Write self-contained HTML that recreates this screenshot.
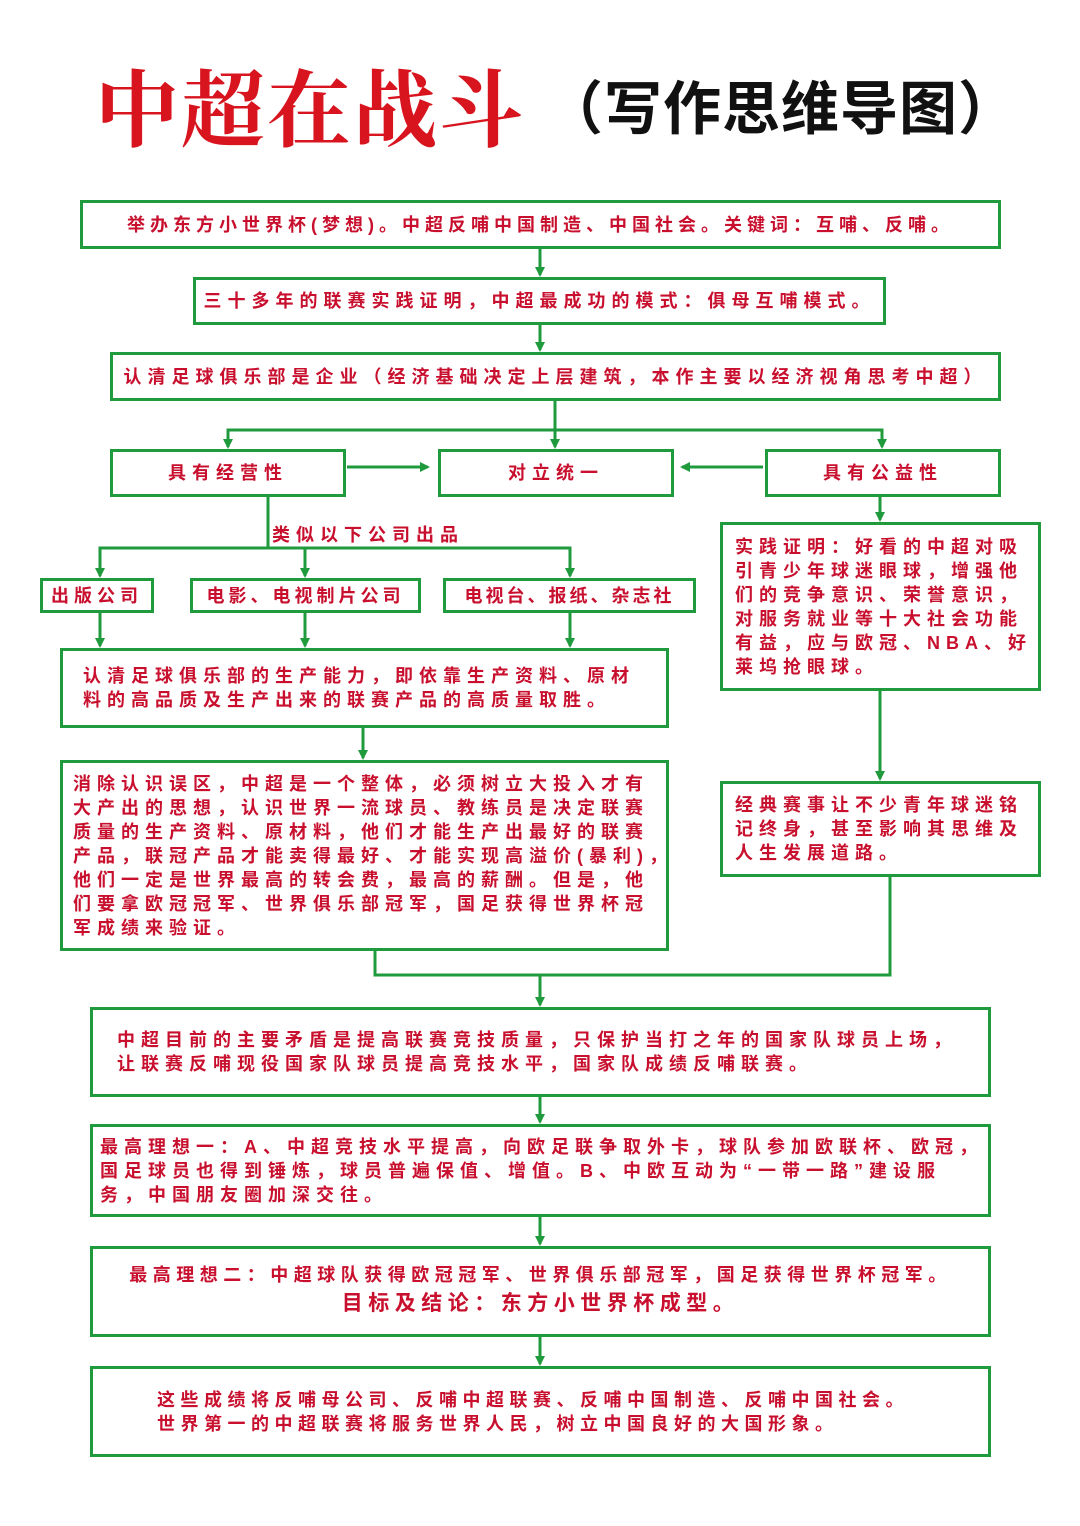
<!DOCTYPE html>
<html><head><meta charset="utf-8"><style>
body{margin:0;width:1080px;height:1526px;background:#fff;position:relative;overflow:hidden;font-family:"Liberation Sans","Noto Sans CJK SC",sans-serif}
.b{position:absolute;border:3px solid #1f9a3c;box-sizing:border-box;color:#c8102e;font-size:18px;font-weight:bold;letter-spacing:6px;display:flex;align-items:center;justify-content:center;text-align:left;background:#fff;white-space:nowrap}
.l{justify-content:flex-start}
.b div{line-height:24px}
svg{position:absolute;left:0;top:0}
.t{position:absolute;white-space:nowrap}
</style></head><body>
<svg width="1080" height="1526">
<defs><marker id="a" markerWidth="10" markerHeight="10" refX="8" refY="5" orient="auto" markerUnits="userSpaceOnUse"><path d="M0,0 L10,5 L0,10 z" fill="#1f9a3c"/></marker></defs>
<g stroke="#1f9a3c" stroke-width="3" fill="none">
<line x1="540" y1="248" x2="540" y2="275" marker-end="url(#a)"/>
<line x1="540" y1="324" x2="540" y2="350" marker-end="url(#a)"/>
<line x1="555" y1="400" x2="555" y2="447" marker-end="url(#a)"/>
<polyline points="228,447 228,430 882,430 882,447"/>
<line x1="228" y1="430" x2="228" y2="447" marker-end="url(#a)"/>
<line x1="882" y1="430" x2="882" y2="447" marker-end="url(#a)"/>
<line x1="347" y1="467" x2="428" y2="467" marker-end="url(#a)"/>
<line x1="763" y1="467" x2="682" y2="467" marker-end="url(#a)"/>
<polyline points="268,496 268,548"/>
<polyline points="100,576 100,548 570,548 570,576"/>
<line x1="100" y1="560" x2="100" y2="576" marker-end="url(#a)"/>
<line x1="305" y1="548" x2="305" y2="576" marker-end="url(#a)"/>
<line x1="570" y1="560" x2="570" y2="576" marker-end="url(#a)"/>
<line x1="100" y1="612" x2="100" y2="646" marker-end="url(#a)"/>
<line x1="305" y1="612" x2="305" y2="646" marker-end="url(#a)"/>
<line x1="570" y1="612" x2="570" y2="646" marker-end="url(#a)"/>
<line x1="363" y1="727" x2="363" y2="758" marker-end="url(#a)"/>
<line x1="880" y1="496" x2="880" y2="520" marker-end="url(#a)"/>
<line x1="880" y1="690" x2="880" y2="779" marker-end="url(#a)"/>
<polyline points="375,950 375,975 890,975 890,876"/>
<line x1="540" y1="975" x2="540" y2="1005" marker-end="url(#a)"/>
<line x1="540" y1="1096" x2="540" y2="1122" marker-end="url(#a)"/>
<line x1="540" y1="1216" x2="540" y2="1244" marker-end="url(#a)"/>
<line x1="540" y1="1336" x2="540" y2="1364" marker-end="url(#a)"/>
</g></svg>
<div class="t" style="left:95px;top:50px;font-size:84px;line-height:110px;color:#d8141e;font-weight:bold;letter-spacing:2px;font-family:'Noto Serif CJK SC',serif">中超在战斗</div>
<div class="t" style="left:545px;top:74px;font-size:58px;line-height:72px;color:#111;font-weight:bold;letter-spacing:1px">（写作思维导图）</div>
<div class="b" style="left:80px;top:200px;width:921px;height:49px;letter-spacing:5px"><div>举办东方小世界杯(梦想)。中超反哺中国制造、中国社会。关键词：互哺、反哺。</div></div>
<div class="b" style="left:193px;top:277px;width:693px;height:48px"><div>三十多年的联赛实践证明，中超最成功的模式：俱母互哺模式。</div></div>
<div class="b" style="left:110px;top:352px;width:891px;height:49px"><div>认清足球俱乐部是企业（经济基础决定上层建筑，本作主要以经济视角思考中超）</div></div>
<div class="b" style="left:110px;top:449px;width:236px;height:48px"><div>具有经营性</div></div>
<div class="b" style="left:438px;top:449px;width:236px;height:48px"><div>对立统一</div></div>
<div class="b" style="left:765px;top:449px;width:236px;height:48px"><div>具有公益性</div></div>
<div class="t" style="left:272px;top:521px;font-size:18px;font-weight:bold;color:#c8102e;letter-spacing:6px">类似以下公司出品</div>
<div class="b" style="left:40px;top:578px;width:114px;height:35px;letter-spacing:5px"><div>出版公司</div></div>
<div class="b" style="left:190px;top:578px;width:231px;height:35px;letter-spacing:4px"><div>电影、电视制片公司</div></div>
<div class="b" style="left:443px;top:578px;width:253px;height:35px;letter-spacing:3px"><div>电视台、报纸、杂志社</div></div>
<div class="b l" style="left:60px;top:648px;width:609px;height:80px;padding-left:20px"><div>认清足球俱乐部的生产能力，即依靠生产资料、原材<br>料的高品质及生产出来的联赛产品的高质量取胜。</div></div>
<div class="b l" style="left:720px;top:522px;width:321px;height:169px;padding-left:12px"><div>实践证明：好看的中超对吸<br>引青少年球迷眼球，增强他<br>们的竞争意识、荣誉意识，<br>对服务就业等十大社会功能<br>有益，应与欧冠、NBA、好<br>莱坞抢眼球。</div></div>
<div class="b l" style="left:60px;top:760px;width:609px;height:191px;padding-left:10px"><div>消除认识误区，中超是一个整体，必须树立大投入才有<br>大产出的思想，认识世界一流球员、教练员是决定联赛<br>质量的生产资料、原材料，他们才能生产出最好的联赛<br>产品，联冠产品才能卖得最好、才能实现高溢价(暴利)，<br>他们一定是世界最高的转会费，最高的薪酬。但是，他<br>们要拿欧冠冠军、世界俱乐部冠军，国足获得世界杯冠<br>军成绩来验证。</div></div>
<div class="b l" style="left:720px;top:781px;width:321px;height:96px;padding-left:12px"><div>经典赛事让不少青年球迷铭<br>记终身，甚至影响其思维及<br>人生发展道路。</div></div>
<div class="b l" style="left:90px;top:1007px;width:901px;height:90px;padding-left:24px;letter-spacing:6px"><div>中超目前的主要矛盾是提高联赛竞技质量，只保护当打之年的国家队球员上场，<br>让联赛反哺现役国家队球员提高竞技水平，国家队成绩反哺联赛。</div></div>
<div class="b l" style="left:90px;top:1124px;width:901px;height:93px;padding-left:7px;letter-spacing:6px"><div>最高理想一：A、中超竞技水平提高，向欧足联争取外卡，球队参加欧联杯、欧冠，<br>国足球员也得到锤炼，球员普遍保值、增值。B、中欧互动为“一带一路”建设服<br>务，中国朋友圈加深交往。</div></div>
<div class="b" style="left:90px;top:1246px;width:901px;height:91px;letter-spacing:5.5px"><div style="text-align:center">最高理想二：中超球队获得欧冠冠军、世界俱乐部冠军，国足获得世界杯冠军。<br><span style="font-size:21px;line-height:34px">目标及结论：东方小世界杯成型。</span></div></div>
<div class="b l" style="left:90px;top:1366px;width:901px;height:91px;padding-left:64px;letter-spacing:5.5px"><div>这些成绩将反哺母公司、反哺中超联赛、反哺中国制造、反哺中国社会。<br>世界第一的中超联赛将服务世界人民，树立中国良好的大国形象。</div></div>
</body></html>
